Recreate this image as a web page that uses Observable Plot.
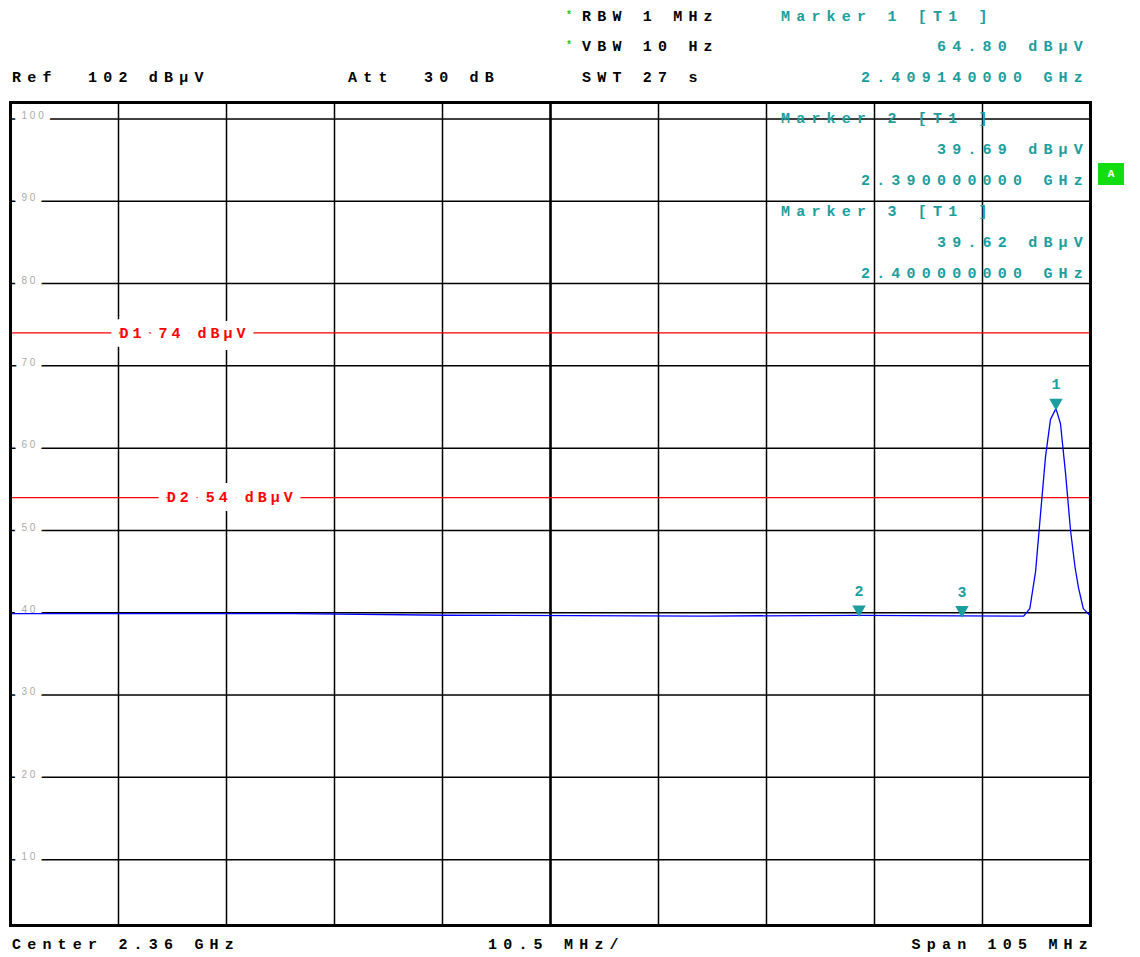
<!DOCTYPE html>
<html><head><meta charset="utf-8">
<script src="https://cdn.jsdelivr.net/npm/d3@7"></script>
<script src="https://cdn.jsdelivr.net/npm/@observablehq/plot@0.6"></script>
<style>
body{margin:0;background:#fff}
#wrap{position:relative;width:1140px;height:957px;overflow:hidden}
.t{position:absolute;font-family:"Liberation Mono",monospace;font-size:15px;font-weight:bold;letter-spacing:6.2px;white-space:pre;line-height:16px}
.k{color:#000}.c{color:#1a9e9e}
.r{text-align:right}
.lim text{font-family:"Liberation Mono",monospace;letter-spacing:4px}
</style></head><body>
<div id="wrap"></div>
<script>
// trace (GHz, dBµV)
const traceF = [2.3075, 2.3350, 2.3500, 2.3750, 2.3900, 2.4000, 2.40600, 2.40660, 2.40716, 2.40764, 2.40813, 2.40861, 2.40914, 2.40958, 2.41007, 2.41056, 2.41100, 2.41134, 2.41180, 2.4125];
const traceL = [39.9, 39.9, 39.7, 39.6, 39.69, 39.62, 39.6, 40.5, 45, 52, 59, 63.5, 64.8, 63, 57, 50, 45.5, 43, 40.5, 39.6];
const markerF = [2.40914, 2.390, 2.400];
const markerL = [64.80, 39.69, 39.62];
const markerN = ["1", "2", "3"];
const limitL = [74, 54];
const limitText = ["D1 74 dBµV", "D2 54 dBµV"];
const limitTextF = [2.3181, 2.3227];
const yTicks = [100, 90, 80, 70, 60, 50, 40, 30, 20, 10];
const xGrid = d3.range(0, 11).map(i => 2.3075 + i * 0.0105);

const trace = traceF.map((f, i) => ({f, l: traceL[i]}));
const markers = markerF.map((f, i) => ({f, l: markerL[i], n: markerN[i]}));

const teal = "#1a9e9e";
const chart = Plot.plot({
  width: 1140, height: 957,
  marginLeft: 10, marginRight: 50, marginTop: 102, marginBottom: 32,
  x: {domain: [2.3075, 2.4125], axis: null},
  y: {domain: [2, 102], axis: null},
  marks: [
    Plot.ruleY(yTicks, {stroke: "#000", strokeWidth: 1.5}),
    Plot.ruleX(xGrid.slice(1, 10), {stroke: "#000", strokeWidth: 1.5}),
    Plot.ruleX([2.36], {stroke: "#000", strokeWidth: 2.5}),
    Plot.text(yTicks, {x: 2.3075, y: d => d, text: d => String(d).split("").join(" "),
      textAnchor: "start", dx: 11, dy: -3, fill: "#aaa", fontSize: 10, fontFamily: "Liberation Sans",
      stroke: "white", strokeWidth: 14, paintOrder: "stroke"}),
    Plot.ruleY(limitL, {stroke: "#ff0000", strokeWidth: 1.2}),
    Plot.text(limitText, {x: (d, i) => limitTextF[i], y: (d, i) => limitL[i], text: d => d.replace(/ /g, "\u00a0"),
      textAnchor: "start", className: "lim",
      fill: "#ff0000", fontFamily: "Liberation Mono", fontSize: 15, fontWeight: "bold",
      stroke: "white", strokeWidth: 18, strokeLinejoin: "round", paintOrder: "stroke"}),
    Plot.line(trace, {x: "f", y: "l", stroke: "#0000ff", strokeWidth: 1.3}),
    Plot.dot(markers, {x: "f", y: "l", symbol: "triangle", rotate: 180, r: 5, fill: teal, dy: -6}),
    Plot.text(markers, {x: "f", y: "l", text: "n", fill: teal, dy: -24, fontFamily: "Liberation Mono", fontSize: 15, fontWeight: "bold"}),
    Plot.frame({stroke: "#000", strokeWidth: 3})
  ]
});
const wrap = document.getElementById("wrap");
wrap.appendChild(chart);

const labels = [
  [12, 71, "Ref  102 dBµV", "k"], [348, 71, "Att  30 dB", "k"], [582, 71, "SWT 27 s", "k"],
  [582, 10, "RBW 1 MHz", "k"], [582, 40, "VBW 10 Hz", "k"],
  [781, 10, "Marker 1 [T1 ]", "c"], [781, 112, "Marker 2 [T1 ]", "c"], [781, 205, "Marker 3 [T1 ]", "c"],
  [12, 938, "Center 2.36 GHz", "k"], [488, 938, "10.5 MHz/", "k"]
];
const rightLabels = [
  [40, "64.80 dBµV"], [71, "2.409140000 GHz"], [143, "39.69 dBµV"], [174, "2.390000000 GHz"],
  [236, "39.62 dBµV"], [267, "2.400000000 GHz"]
];
for (const [x, y, s, c] of labels) {
  const d = document.createElement("div");
  d.className = "t " + c; d.style.left = x + "px"; d.style.top = y + "px"; d.textContent = s;
  wrap.appendChild(d);
}
for (const [y, s] of rightLabels) {
  const d = document.createElement("div");
  d.className = "t c r"; d.style.right = "51px"; d.style.top = y + "px"; d.textContent = s;
  wrap.appendChild(d);
}
const sp = document.createElement("div");
sp.className = "t k r"; sp.style.right = "46px"; sp.style.top = "938px"; sp.textContent = "Span 105 MHz";
wrap.appendChild(sp);
for (const y of [8, 38]) {
  const s = document.createElement("div");
  s.className = "t"; s.style.left = "566px"; s.style.top = y + "px"; s.style.color = "#1ec31e"; s.style.fontSize = "10px";
  s.textContent = "*"; wrap.appendChild(s);
}
const a = document.createElement("div");
a.className = "t"; a.textContent = "A";
Object.assign(a.style, {left: "1098px", top: "163px", width: "26px", height: "22px", background: "#11dd11",
  color: "#fff", fontSize: "11px", fontWeight: "bold", textAlign: "center", lineHeight: "22px", letterSpacing: "0"});
wrap.appendChild(a);
</script>
</body></html>
